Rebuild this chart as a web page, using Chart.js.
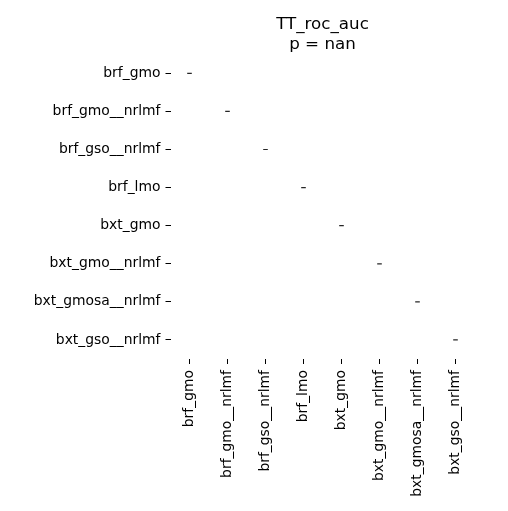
<!DOCTYPE html>
<html>
<head>
<meta charset="utf-8">
<script src="https://cdn.jsdelivr.net/npm/chart.js@4"></script>
<style>
  html, body { margin: 0; padding: 0; background: #fff; }
  #c { display: block; }
</style>
</head>
<body>
<canvas id="c" width="508" height="511"></canvas>
<script>
const titleLines = ["TT_roc_auc", "p = nan"];
const rowLabels = ["brf_gmo", "brf_gmo__nrlmf", "brf_gso__nrlmf", "brf_lmo", "bxt_gmo", "bxt_gmo__nrlmf", "bxt_gmosa__nrlmf", "bxt_gso__nrlmf"];
const colLabels = ["brf_gmo", "brf_gmo__nrlmf", "brf_gso__nrlmf", "brf_lmo", "bxt_gmo", "bxt_gmo__nrlmf", "bxt_gmosa__nrlmf", "bxt_gso__nrlmf"];
// annotated cells (all values NaN, shown as "-")
const annotRows = ["brf_gmo", "brf_gmo__nrlmf", "brf_gso__nrlmf", "brf_lmo", "bxt_gmo", "bxt_gmo__nrlmf", "bxt_gmosa__nrlmf", "bxt_gso__nrlmf"];
const annotCols = ["brf_gmo", "brf_gmo__nrlmf", "brf_gso__nrlmf", "brf_lmo", "bxt_gmo", "bxt_gmo__nrlmf", "bxt_gmosa__nrlmf", "bxt_gso__nrlmf"];

const FONT = "'DejaVu Sans', sans-serif";

const titlePlugin = {
  id: 'axTitle',
  afterDraw(chart) {
    const ctx = chart.ctx;
    const a = chart.chartArea;
    const cx = (a.left + a.right) / 2;
    ctx.save();
    ctx.fillStyle = '#000';
    ctx.font = "16.7px " + FONT;
    ctx.textAlign = 'center';
    ctx.textBaseline = 'alphabetic';
    ctx.fillText(titleLines[0], cx, 29);
    ctx.fillText(titleLines[1], cx, 49);
    ctx.restore();
  }
};

new Chart(document.getElementById('c'), {
  type: 'scatter',
  data: {
    datasets: [{
      data: annotRows.map((r, i) => ({ x: annotCols[i], y: r })),
      pointStyle: 'line',
      radius: 2.3,
      hoverRadius: 2.3,
      borderColor: '#262626',
      backgroundColor: '#262626',
      borderWidth: 1.2
    }]
  },
  options: {
    responsive: false,
    animation: false,
    layout: { padding: { top: 54.3, right: 33.5, left: 0, bottom: 0 } },
    plugins: { legend: { display: false }, tooltip: { enabled: false }, title: { display: false } },
    scales: {
      x: {
        type: 'category',
        labels: colLabels,
        offset: true,
        position: 'bottom',
        grid: { drawOnChartArea: false, drawTicks: true, tickLength: 5, color: '#000', lineWidth: 1, offset: false },
        border: { display: false },
        ticks: { font: { family: FONT, size: 13.9 }, color: '#000', maxRotation: 90, minRotation: 90, padding: 6, autoSkip: false },
        afterFit(s) { s.height = 152; }
      },
      y: {
        type: 'category',
        labels: rowLabels,
        offset: true,
        position: 'left',
        grid: { drawOnChartArea: false, drawTicks: true, tickLength: 5, color: '#000', lineWidth: 1, offset: false },
        border: { display: false },
        ticks: { font: { family: FONT, size: 13.9 }, color: '#000', padding: 5, autoSkip: false },
        afterFit(s) { s.width = 170.5; }
      }
    }
  },
  plugins: [titlePlugin]
});
</script>
</body>
</html>
